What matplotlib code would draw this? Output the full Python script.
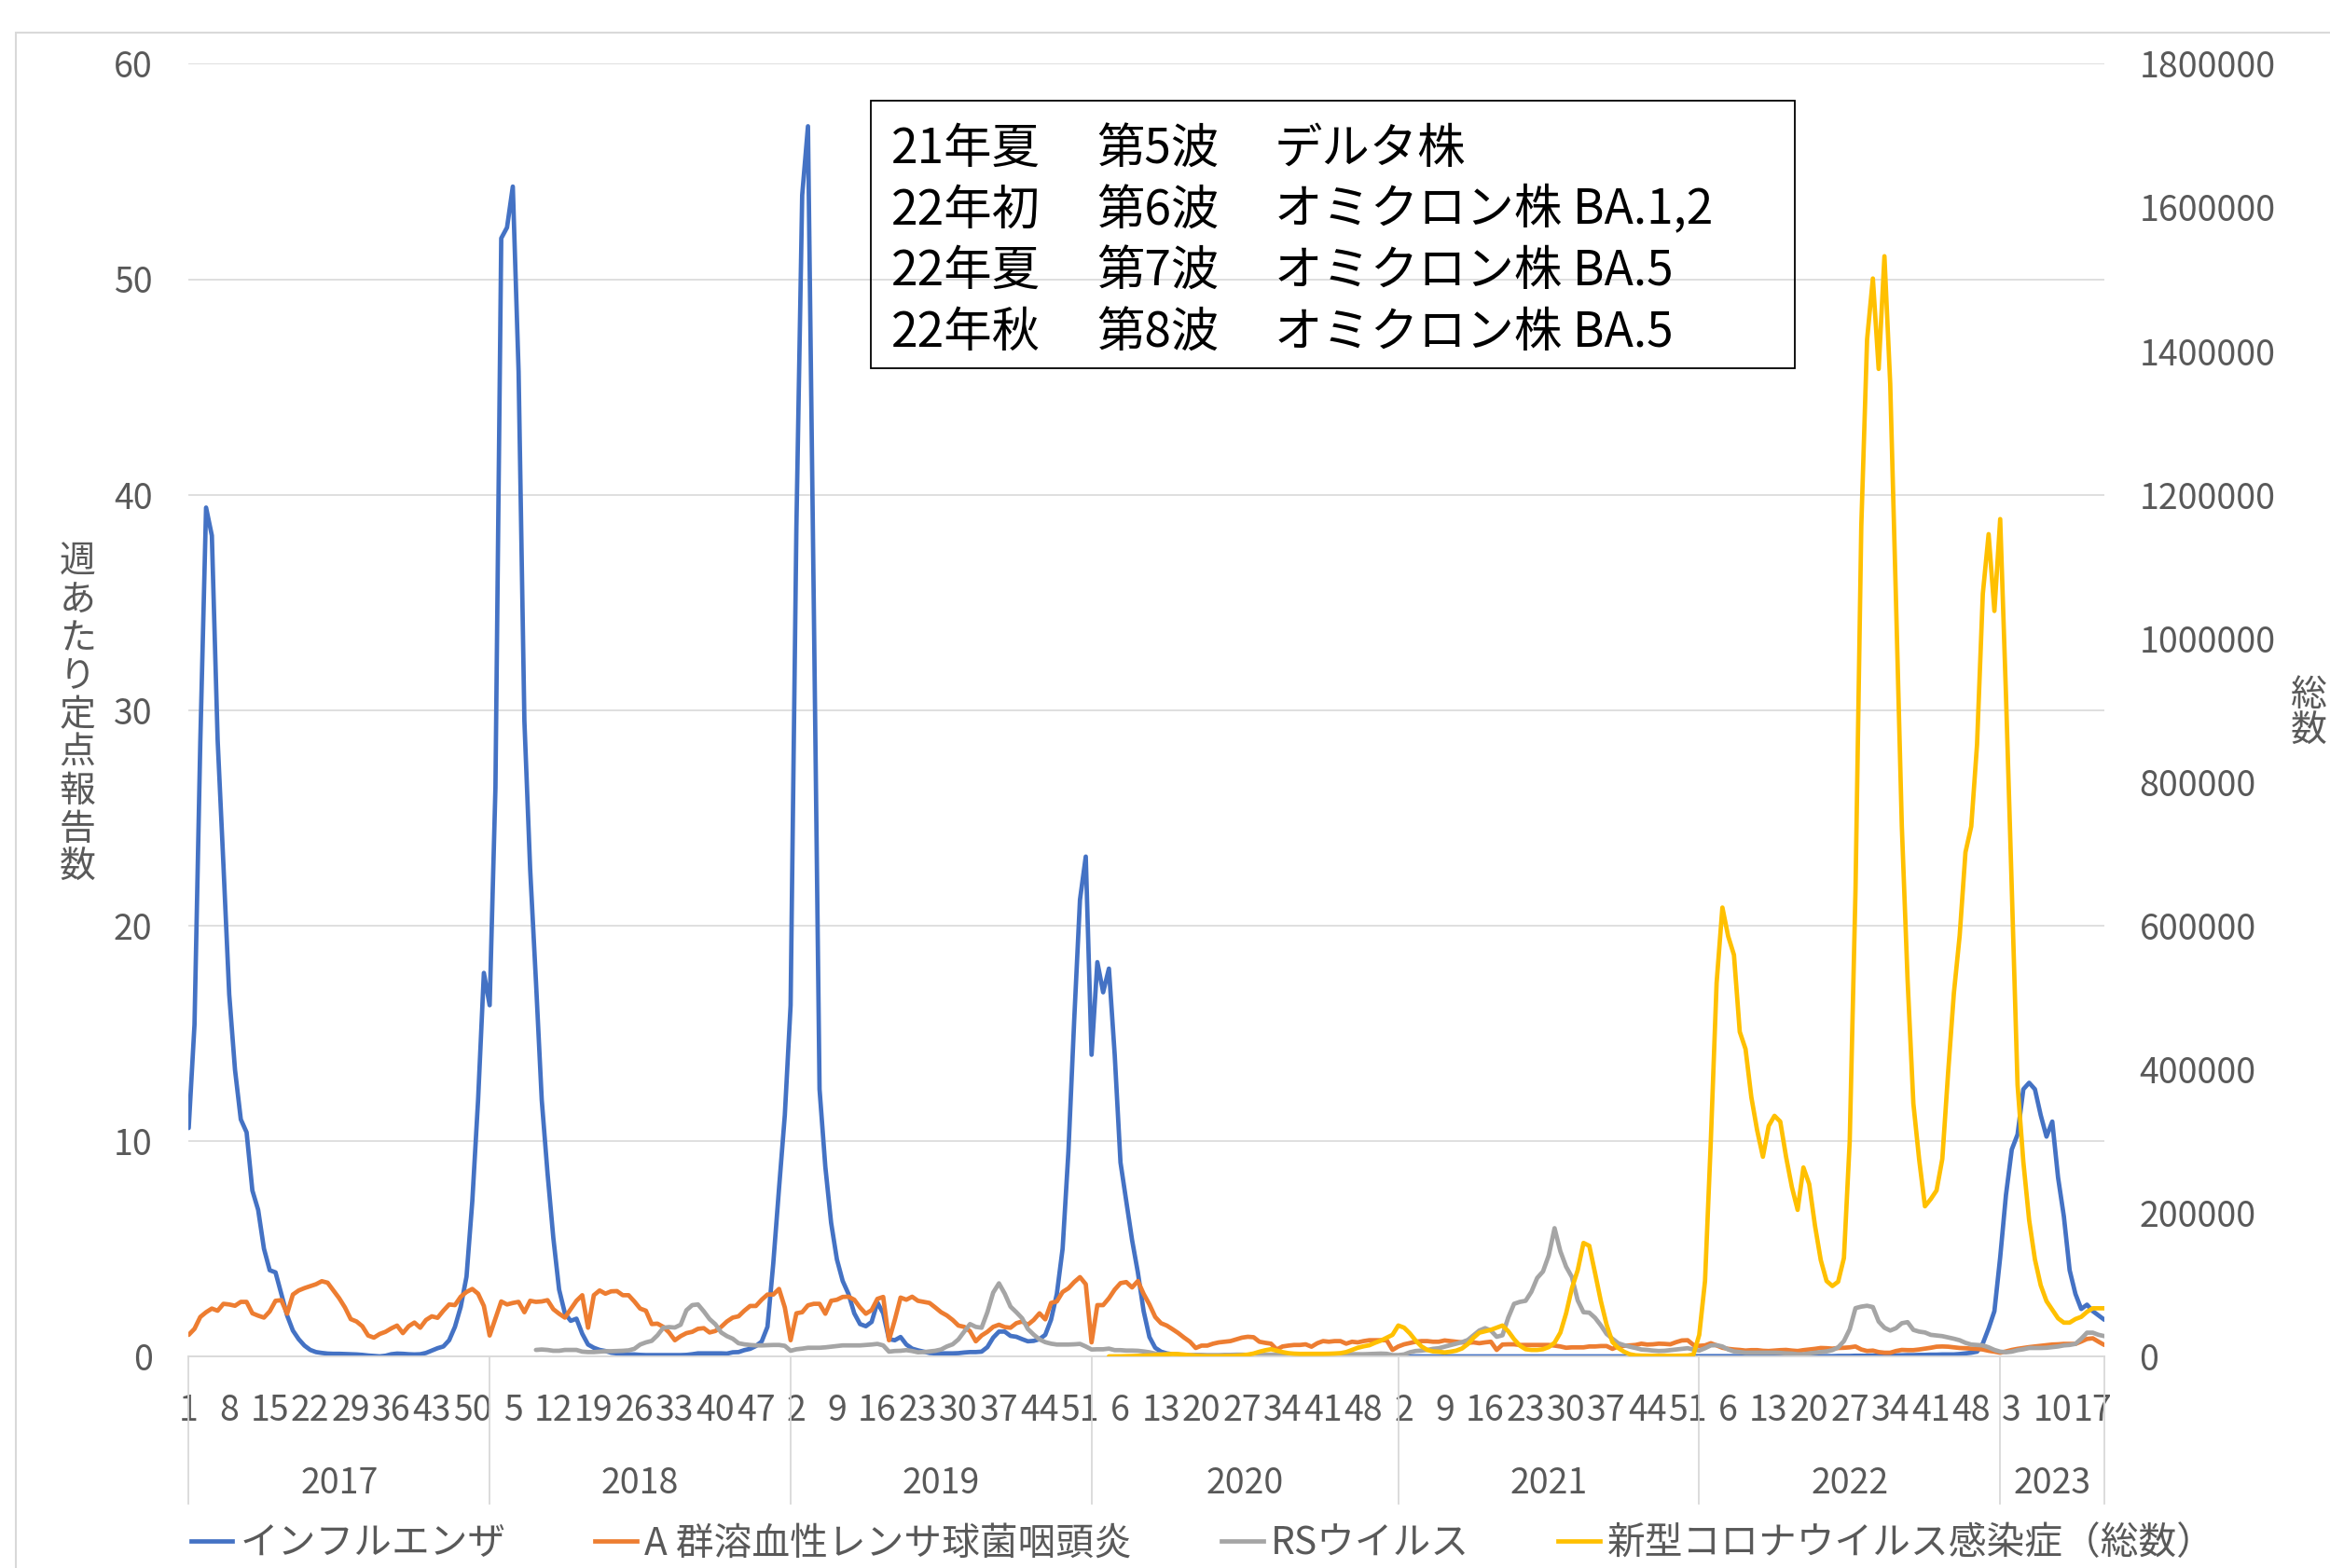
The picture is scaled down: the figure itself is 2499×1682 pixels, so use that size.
import numpy as np
import matplotlib
matplotlib.use("Agg")
import matplotlib.pyplot as plt
from matplotlib.transforms import blended_transform_factory
from matplotlib.lines import Line2D
from matplotlib.patches import Rectangle

plt.rcParams['font.family'] = ['Noto Sans CJK JP', 'DejaVu Sans']

# ---- data (weekly, 2017 week 1 .. 2023 week 19) ----
years = [2017, 2018, 2019, 2020, 2021, 2022, 2023]
weeks_in_year = [52, 52, 52, 53, 52, 52, 19]

# インフルエンザ (per sentinel)
flu = [
    # 2017
    10.6, 15.4, 28.5, 39.4, 38.1, 28.6, 22.8, 16.8, 13.3, 11.0, 10.4, 7.7, 6.8,
    5.0, 4.0, 3.9, 2.9, 1.9, 1.2, 0.8, 0.5, 0.3, 0.2, 0.16, 0.13, 0.12,
    0.12, 0.11, 0.10, 0.09, 0.07, 0.04, 0.02, 0.0, 0.03, 0.10, 0.13, 0.12, 0.10,
    0.09, 0.10, 0.16, 0.27, 0.38, 0.46, 0.75, 1.37, 2.3, 3.7, 7.2, 11.9, 17.8,
    # 2018
    16.3, 26.4, 51.9, 52.4, 54.3, 45.7, 29.5, 22.6, 17.4, 11.9, 8.5, 5.5, 3.1,
    2.0, 1.65, 1.75, 1.05, 0.55, 0.4, 0.3, 0.25, 0.17, 0.14, 0.1, 0.09, 0.09,
    0.07, 0.06, 0.06, 0.06, 0.06, 0.06, 0.06, 0.06, 0.07, 0.1, 0.14, 0.14, 0.14,
    0.14, 0.14, 0.13, 0.19, 0.2, 0.29, 0.35, 0.48, 0.69, 1.37, 4.3, 7.8, 11.2,
    # 2019
    16.3, 38.5, 53.9, 57.1, 35.0, 12.4, 8.8, 6.2, 4.5, 3.5, 2.9, 2.0, 1.5,
    1.4, 1.6, 2.5, 2.0, 0.8, 0.75, 0.9, 0.55, 0.36, 0.28, 0.22, 0.16, 0.14,
    0.14, 0.14, 0.14, 0.15, 0.18, 0.2, 0.2, 0.22, 0.43, 0.87, 1.15, 1.15, 0.95,
    0.91, 0.8, 0.7, 0.72, 0.8, 1.0, 1.7, 2.9, 5.0, 9.5, 15.6, 21.2, 23.2,
    # 2020
    14.0, 18.3, 16.9, 18.0, 14.0, 9.0, 7.2, 5.4, 3.9, 2.1, 0.9, 0.4, 0.22,
    0.14, 0.1, 0.08, 0.05, 0.03, 0.02, 0.01, 0.01, 0.0, 0.0, 0.0, 0.0, 0.0,
    0.0, 0.0, 0.0, 0.0, 0.0, 0.0, 0.0, 0.0, 0.0, 0.0, 0.0, 0.0, 0.0,
    0.0, 0.0, 0.0, 0.0, 0.0, 0.0, 0.0, 0.0, 0.0, 0.0, 0.0, 0.0, 0.0, 0.0,
    # 2021
    0.01, 0.01, 0.0, 0.0, 0.0, 0.0, 0.0, 0.0, 0.0, 0.0, 0.0, 0.0, 0.0,
    0.0, 0.0, 0.0, 0.0, 0.0, 0.0, 0.0, 0.0, 0.0, 0.0, 0.0, 0.0, 0.0,
    0.0, 0.0, 0.0, 0.0, 0.0, 0.0, 0.0, 0.0, 0.0, 0.0, 0.0, 0.0, 0.0,
    0.0, 0.0, 0.0, 0.0, 0.0, 0.0, 0.0, 0.0, 0.0, 0.0, 0.0, 0.01, 0.01,
    # 2022
    0.01, 0.01, 0.01, 0.01, 0.01, 0.01, 0.01, 0.01, 0.01, 0.01, 0.01, 0.01, 0.01,
    0.01, 0.01, 0.01, 0.01, 0.01, 0.01, 0.01, 0.01, 0.01, 0.01, 0.01, 0.02, 0.02,
    0.02, 0.03, 0.03, 0.03, 0.04, 0.04, 0.04, 0.05, 0.05, 0.05, 0.06, 0.06, 0.07,
    0.07, 0.08, 0.08, 0.09, 0.09, 0.09, 0.11, 0.14, 0.17, 0.22, 0.6, 1.3, 2.1,
    # 2023
    4.6, 7.5, 9.6, 10.3, 12.4, 12.7, 12.4, 11.2, 10.2, 10.9, 8.3, 6.5, 4.0,
    2.9, 2.2, 2.4, 2.1, 1.9, 1.7,
]

# A群溶血性レンサ球菌咽頭炎 (per sentinel)
strep = [
    # 2017
    1.0, 1.28, 1.83, 2.05, 2.22, 2.12, 2.44, 2.41, 2.35, 2.53, 2.53, 2.0, 1.89,
    1.8, 2.09, 2.58, 2.61, 1.98, 2.87, 3.06, 3.17, 3.26, 3.35, 3.49, 3.42, 3.06,
    2.7, 2.27, 1.73, 1.62, 1.4, 0.97, 0.87, 1.04, 1.14, 1.3, 1.43, 1.08, 1.4,
    1.57, 1.33, 1.69, 1.86, 1.79, 2.12, 2.41, 2.38, 2.77, 2.99, 3.13, 2.91, 2.34,
    # 2018
    0.97, 1.76, 2.55, 2.41, 2.48, 2.53, 2.05, 2.58, 2.53, 2.55, 2.61, 2.19, 1.98,
    1.8, 2.19, 2.58, 2.84, 1.33, 2.84, 3.06, 2.91, 3.02, 3.03, 2.84, 2.84, 2.55,
    2.22, 2.12, 1.5, 1.52, 1.37, 1.11, 0.75, 0.94, 1.08, 1.14, 1.28, 1.31, 1.11,
    1.18, 1.37, 1.62, 1.8, 1.86, 2.12, 2.34, 2.34, 2.63, 2.87, 2.87, 3.13, 2.27,
    # 2019
    0.75, 2.0, 2.05, 2.37, 2.44, 2.44, 1.98, 2.58, 2.63, 2.76, 2.77, 2.63, 2.27,
    1.98, 2.15, 2.67, 2.76, 0.75, 1.69, 2.73, 2.63, 2.77, 2.58, 2.53, 2.48, 2.27,
    2.05, 1.9, 1.69, 1.43, 1.37, 1.17, 0.7, 0.97, 1.14, 1.37, 1.47, 1.36, 1.33,
    1.54, 1.62, 1.47, 1.69, 2.0, 1.72, 2.48, 2.55, 2.99, 3.16, 3.45, 3.68, 3.35,
    # 2020
    0.65, 2.38, 2.38, 2.7, 3.1, 3.4, 3.45, 3.2, 3.5, 2.9, 2.41, 1.83, 1.54,
    1.43, 1.26, 1.08, 0.87, 0.68, 0.39, 0.5, 0.5, 0.59, 0.65, 0.68, 0.71, 0.79,
    0.87, 0.91, 0.89, 0.68, 0.63, 0.59, 0.32, 0.46, 0.5, 0.53, 0.53, 0.56, 0.45,
    0.61, 0.71, 0.68, 0.71, 0.71, 0.59, 0.68, 0.65, 0.71, 0.75, 0.75, 0.75, 0.75, 0.3,
    # 2021
    0.46, 0.56, 0.62, 0.68, 0.71, 0.71, 0.68, 0.68, 0.74, 0.71, 0.68, 0.65, 0.63,
    0.65, 0.61, 0.65, 0.68, 0.3, 0.55, 0.56, 0.56, 0.53, 0.53, 0.53, 0.53, 0.53,
    0.53, 0.5, 0.46, 0.4, 0.42, 0.42, 0.42, 0.46, 0.46, 0.48, 0.48, 0.35, 0.46,
    0.49, 0.51, 0.53, 0.59, 0.55, 0.56, 0.59, 0.58, 0.56, 0.66, 0.74, 0.75, 0.53,
    # 2022
    0.49, 0.51, 0.61, 0.51, 0.40, 0.35, 0.32, 0.30, 0.27, 0.29, 0.29, 0.26, 0.25,
    0.27, 0.29, 0.30, 0.27, 0.25, 0.29, 0.32, 0.35, 0.39, 0.38, 0.36, 0.39, 0.40,
    0.42, 0.46, 0.32, 0.25, 0.27, 0.20, 0.17, 0.17, 0.25, 0.30, 0.29, 0.29, 0.32,
    0.36, 0.40, 0.45, 0.46, 0.45, 0.42, 0.39, 0.38, 0.36, 0.35, 0.32, 0.26, 0.22,
    # 2023
    0.17, 0.23, 0.30, 0.35, 0.39, 0.43, 0.46, 0.49, 0.52, 0.55, 0.56, 0.58, 0.58,
    0.58, 0.69, 0.81, 0.84, 0.68, 0.53,
]

# RSウイルス (per sentinel), first reported week
rs_first = (2018, 9)
rs = [
    # 2018
    0.3, 0.32, 0.3, 0.26, 0.26, 0.3, 0.3, 0.3, 0.22, 0.2, 0.2, 0.22, 0.24, 0.24,
    0.25, 0.26, 0.28, 0.35, 0.55, 0.65, 0.72, 0.98, 1.33, 1.36, 1.34, 1.47, 2.14,
    2.38, 2.41, 2.09, 1.73, 1.49, 1.11, 0.94, 0.82, 0.61, 0.56, 0.53, 0.51, 0.51,
    0.52, 0.53, 0.53, 0.49,
    # 2019
    0.26, 0.33, 0.36, 0.4, 0.4, 0.4, 0.42, 0.45, 0.48, 0.51, 0.51, 0.51, 0.51,
    0.53, 0.55, 0.58, 0.51, 0.22, 0.25, 0.26, 0.29, 0.25, 0.19, 0.2, 0.23, 0.26,
    0.32, 0.46, 0.56, 0.79, 1.15, 1.5, 1.37, 1.33, 2.05, 2.96, 3.39, 2.91, 2.31,
    2.05, 1.77, 1.27, 1.01, 0.79, 0.66, 0.59, 0.55, 0.55, 0.55, 0.56, 0.58, 0.46,
    # 2020
    0.32, 0.33, 0.33, 0.36, 0.29, 0.29, 0.27, 0.27, 0.26, 0.23, 0.19, 0.13, 0.09,
    0.08, 0.07, 0.07, 0.06, 0.06, 0.07, 0.07, 0.06, 0.06, 0.06, 0.07, 0.07, 0.08,
    0.08, 0.07, 0.07, 0.07, 0.08, 0.08, 0.08, 0.08, 0.09, 0.09, 0.09, 0.09, 0.09,
    0.10, 0.10, 0.10, 0.10, 0.10, 0.10, 0.10, 0.10, 0.10, 0.11, 0.12, 0.13, 0.12, 0.06,
    # 2021
    0.06, 0.09, 0.19, 0.25, 0.27, 0.30, 0.35, 0.38, 0.45, 0.52, 0.59, 0.66, 0.76,
    0.98, 1.20, 1.31, 1.20, 0.91, 0.98, 1.80, 2.44, 2.53, 2.58, 3.00, 3.64, 3.94,
    4.69, 5.95, 4.88, 4.16, 3.68, 2.60, 2.05, 2.03, 1.79, 1.44, 1.04, 0.82, 0.61,
    0.52, 0.45, 0.39, 0.32, 0.30, 0.27, 0.25, 0.26, 0.29, 0.32, 0.35, 0.38, 0.32,
    # 2022
    0.27, 0.38, 0.51, 0.52, 0.46, 0.32, 0.23, 0.20, 0.17, 0.17, 0.17, 0.17, 0.17,
    0.17, 0.16, 0.14, 0.13, 0.10, 0.10, 0.14, 0.17, 0.20, 0.23, 0.29, 0.42, 0.71,
    1.26, 2.24, 2.31, 2.35, 2.29, 1.62, 1.33, 1.20, 1.31, 1.54, 1.59, 1.23, 1.15,
    1.11, 1.00, 0.97, 0.94, 0.88, 0.82, 0.75, 0.63, 0.55, 0.53, 0.51, 0.42, 0.30,
    # 2023
    0.22, 0.19, 0.22, 0.29, 0.33, 0.39, 0.39, 0.39, 0.40, 0.43, 0.46, 0.51, 0.53,
    0.58, 0.82, 1.10, 1.10, 1.00, 0.94,
]

# 新型コロナウイルス感染症 (total count), first reported week
covid_first = (2020, 4)
covid = [
    # 2020
    20, 50, 150, 300, 500, 700, 900, 1300, 1800, 2400, 3000, 3400, 3200, 2500,
    1600, 900, 500, 300, 250, 300, 400, 600, 900, 1500, 2500, 4000, 6500, 8500,
    10000, 8000, 6000, 4500, 3800, 3500, 3500, 3500, 3600, 3600, 3700, 4000, 4500,
    6000, 9000, 12000, 14000, 15500, 19000, 22000, 26000, 30000,
    # 2021
    43000, 40000, 32000, 22000, 14000, 9000, 7000, 6500, 5500, 6500, 8000, 11000, 17000,
    26000, 33000, 35000, 37000, 40000, 43000, 35000, 24000, 15000, 10000, 9000, 9000, 10000,
    13000, 19000, 33000, 60000, 95000, 120000, 158000, 154000, 116000, 77000, 44000, 20000, 11700,
    6500, 3000, 1500, 1100, 900, 800, 800, 800, 900, 900, 1000, 1200, 2500,
    # 2022
    30000, 105000, 300000, 520000, 625000, 585000, 559000, 452000, 428000, 361000, 315000, 278000, 321000,
    335000, 327000, 278000, 236000, 204000, 263000, 240000, 182000, 134000, 105000, 98000, 104000, 137000,
    300000, 649000, 1156000, 1416000, 1501000, 1375000, 1532000, 1354000, 1051000, 739000, 524000, 352000, 274000,
    209000, 219000, 231000, 275000, 395000, 506000, 586000, 702000, 738000, 852000, 1062000, 1145000, 1038000,
    # 2023
    1166000, 921000, 652000, 378000, 271000, 190000, 135000, 99000, 77000, 65000, 53000, 47000, 47000,
    52000, 55000, 62000, 67000, 67000, 67000,
]

series_names = ['インフルエンザ', 'A 群溶血性レンサ球菌咽頭炎', 'RSウイルス', '新型コロナウイルス感染症（総数）']
colors = ['#4472C4', '#ED7D31', '#A5A5A5', '#FFC000']

notes = [
    ('21年夏', '第5波', 'デルタ株'),
    ('22年初', '第6波', 'オミクロン株 BA.1,2'),
    ('22年夏', '第7波', 'オミクロン株 BA.5'),
    ('22年秋', '第8波', 'オミクロン株 BA.5'),
]

# ---- build the weekly category axis ----
week_labels = [w for n in weeks_in_year for w in range(1, n + 1)]
year_start = np.cumsum([0] + weeks_in_year[:-1])
n_weeks = len(week_labels)
x = np.arange(n_weeks)


def place(first, values):
    out = np.full(n_weeks, np.nan)
    pos = year_start[years.index(first[0])] + first[1] - 1
    out[pos:pos + len(values)] = values
    return out


flu_arr = np.array(flu)
strep_arr = np.array(strep)
rs_arr = place(rs_first, rs)
covid_arr = place(covid_first, covid)

W, H = 2499, 1682
fig = plt.figure(figsize=(W / 100, H / 100), dpi=100)


def fx(px):
    return px / W


def fy(py):
    return 1 - py / H


GRAY_TXT = '#595959'
GRID = '#D9D9D9'

# chart-area border
fig.patches.append(Rectangle((fx(17), fy(1750)), 1.2, fy(35) - fy(1750), transform=fig.transFigure,
                             fill=False, edgecolor=GRID, lw=1.5))

ax = fig.add_axes([fx(202.4), fy(1455), fx(2257) - fx(202.4), fy(68.4) - fy(1455)])
ax.set_xlim(0, n_weeks - 1)
ax.set_ylim(0, 60)
ax.set_yticks(range(0, 61, 10))
ax.grid(axis='y', color=GRID, lw=1.2)
ax.set_axisbelow(True)
for s in ['top', 'right', 'left']:
    ax.spines[s].set_visible(False)
ax.spines['bottom'].set_color(GRID)
ax.spines['bottom'].set_linewidth(1.3)
ax.tick_params(axis='y', length=0, pad=28, labelsize=27, labelcolor=GRAY_TXT)
ax.set_xticks(x[::7])
ax.set_xticklabels([str(w) for w in week_labels[::7]])
ax.tick_params(axis='x', length=0, pad=28, labelsize=27, labelcolor=GRAY_TXT)

lw = 3.4
ax.plot(x, flu_arr, color=colors[0], lw=lw, solid_joinstyle='round', solid_capstyle='round')
ax.plot(x, strep_arr, color=colors[1], lw=lw, solid_joinstyle='round', solid_capstyle='round')
ax.plot(x, rs_arr, color=colors[2], lw=lw, solid_joinstyle='round', solid_capstyle='round')

ax2 = ax.twinx()
ax2.set_ylim(0, 1800000)
ax2.set_yticks(range(0, 1800001, 200000))
ax2.set_yticklabels([str(v) for v in range(0, 1800001, 200000)])
for s in ax2.spines.values():
    s.set_visible(False)
ax2.tick_params(axis='y', length=0, pad=27, labelsize=27, labelcolor=GRAY_TXT)
ax2.plot(x, covid_arr, color=colors[3], lw=lw, solid_joinstyle='round', solid_capstyle='round')

# year groups under the week labels
trans = blended_transform_factory(ax.transData, ax.transAxes)
bounds = list(year_start) + [n_weeks - 1]
for b in bounds:
    ax.plot([b, b], [0, -0.114], transform=trans, color=GRID, lw=1.3, clip_on=False)
for k, y in enumerate(years):
    ax.text((bounds[k] + bounds[k + 1]) / 2, -0.0988, str(y), transform=trans,
            ha='center', va='center', fontsize=27, color=GRAY_TXT)

# axis titles, written vertically one character per line
for k, ch in enumerate('週あたり定点報告数'):
    fig.text(fx(83), fy(603 + k * 41), ch, ha='center', va='center', fontsize=28, color=GRAY_TXT)
for k, ch in enumerate('総数'):
    fig.text(fx(2457), fy(746 + k * 39), ch, ha='left', va='center', fontsize=28, color=GRAY_TXT)

# wave note box
fig.patches.append(Rectangle((fx(934), fy(395)), fx(1925) - fx(934), fy(108) - fy(395),
                             transform=fig.transFigure, fill=False, edgecolor='black', lw=1.3))
for k, row in enumerate(notes):
    for col, t in zip([956, 1176, 1367], row):
        fig.text(fx(col), fy(160 + k * 65.7), t, ha='left', va='center', fontsize=37, color='black')

handles = [Line2D([], [], color=c, lw=3.4) for c in colors]
fig.legend(handles, series_names, loc='center left', bbox_to_anchor=(fx(168), fy(1656)),
           ncol=4, frameon=False, fontsize=29.3, handlelength=1.1, handletextpad=0.2,
           columnspacing=2.35, labelcolor=GRAY_TXT)

fig.savefig('out.png', dpi=100)
